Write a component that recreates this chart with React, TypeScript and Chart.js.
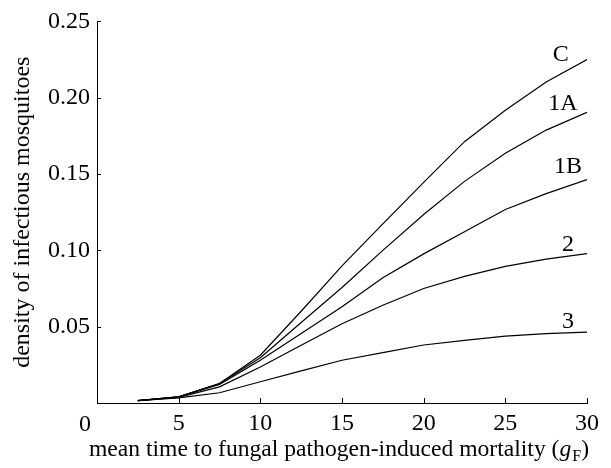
import React, { useEffect, useRef } from "react";
import { Chart, registerables } from "chart.js";

Chart.register(...registerables);

const xValues = [2.5, 5, 7.5, 10, 12.5, 15, 17.5, 20, 22.5, 25, 27.5, 30];
const seriesC = [0.0015, 0.004, 0.0128, 0.0313, 0.0601, 0.0898, 0.1174, 0.1445, 0.1712, 0.1918, 0.2103, 0.225];
const series1A = [0.0015, 0.004, 0.0128, 0.0297, 0.0527, 0.0757, 0.1, 0.1235, 0.1452, 0.1636, 0.1788, 0.1905];
const series1B = [0.0015, 0.004, 0.0122, 0.028, 0.0456, 0.063, 0.082, 0.0977, 0.1122, 0.1268, 0.1372, 0.1463];
const series2 = [0.0015, 0.0037, 0.0106, 0.0236, 0.0378, 0.0519, 0.064, 0.075, 0.083, 0.0895, 0.0942, 0.0979];
const series3 = [0.0015, 0.0033, 0.0067, 0.0139, 0.021, 0.028, 0.033, 0.038, 0.041, 0.0438, 0.0454, 0.0464];

const seriesNames = ["C", "1A", "1B", "2", "3"];
const seriesData = [seriesC, series1A, series1B, series2, series3];
// label anchor (data units) for the curve names
const labelX = [28.4, 28.52, 28.83, 28.83, 28.83];
const labelY = [0.2285, 0.196, 0.155, 0.104, 0.0535];

const xTicks = [0, 5, 10, 15, 20, 25, 30];
const yTicks = [0.05, 0.1, 0.15, 0.2, 0.25];

const xTitleMain = "mean time to fungal pathogen-induced mortality (";
const xTitleVar = "g";
const xTitleSub = "F";
const yTitle = "density of infectious mosquitoes";

const FONT = "'Liberation Serif', 'Times New Roman', serif";
const FS = 24;

const decorPlugin = {
  id: "decor",
  afterDraw(chart: any) {
    const ctx = chart.ctx;
    const xs = chart.scales.x;
    const ys = chart.scales.y;
    const area = chart.chartArea;
    ctx.save();
    ctx.strokeStyle = "#000";
    ctx.lineWidth = 1;
    // inward ticks
    for (const t of xTicks) {
      if (t === 0) continue;
      const px = Math.round(xs.getPixelForValue(t)) + 0.5;
      ctx.beginPath();
      ctx.moveTo(px, area.bottom);
      ctx.lineTo(px, area.bottom - 5);
      ctx.stroke();
    }
    for (const t of yTicks) {
      const py = Math.round(ys.getPixelForValue(t)) + 0.5;
      ctx.beginPath();
      ctx.moveTo(area.left, py);
      ctx.lineTo(area.left + 4, py);
      ctx.stroke();
    }
    ctx.fillStyle = "#000";
    // origin label
    ctx.font = `${FS}px ${FONT}`;
    ctx.textAlign = "center";
    ctx.textBaseline = "alphabetic";
    ctx.fillText("0", xs.getPixelForValue(0) - 12, 431);
    // curve labels
    ctx.textBaseline = "middle";
    for (let i = 0; i < seriesNames.length; i++) {
      ctx.fillText(seriesNames[i], xs.getPixelForValue(labelX[i]), ys.getPixelForValue(labelY[i]));
    }
    // x title with italic g and subscript F
    const TS = 23.6;
    const mainFont = `${TS}px ${FONT}`;
    const italFont = `italic ${TS}px ${FONT}`;
    const subFont = `16px ${FONT}`;
    ctx.font = mainFont;
    const w1 = ctx.measureText(xTitleMain).width;
    ctx.font = italFont;
    const w2 = ctx.measureText(xTitleVar).width;
    ctx.font = subFont;
    const w3 = ctx.measureText(xTitleSub).width;
    ctx.font = mainFont;
    const w4 = ctx.measureText(")").width;
    const total = w1 + w2 + w3 + w4 + 1;
    let cx = (area.left + area.right) / 2 - 3 - total / 2;
    const base = 456;
    ctx.textAlign = "left";
    ctx.textBaseline = "alphabetic";
    ctx.font = mainFont;
    ctx.fillText(xTitleMain, cx, base);
    cx += w1;
    ctx.font = italFont;
    ctx.fillText(xTitleVar, cx, base);
    cx += w2 + 1;
    ctx.font = subFont;
    ctx.fillText(xTitleSub, cx, base + 5);
    cx += w3;
    ctx.font = mainFont;
    ctx.fillText(")", cx, base);
    ctx.restore();
  },
};

export default function App() {
  const ref = useRef<HTMLCanvasElement | null>(null);
  useEffect(() => {
    document.body.style.margin = "0";
    const canvas = ref.current!;
    const mk = (d: number[]) => ({
      data: xValues.map((x, i) => ({ x, y: d[i] })),
      borderColor: "#000",
      borderWidth: 1.2,
      pointRadius: 0,
      tension: 0,
      fill: false,
    });
    const chart = new Chart(canvas, {
      type: "line",
      data: { datasets: seriesData.map((d, i) => ({ label: seriesNames[i], ...mk(d) })) },
      options: {
        animation: false,
        responsive: false,
        layout: { padding: { top: 19, right: 24, left: 0, bottom: 0 } },
        plugins: { legend: { display: false }, tooltip: { enabled: false } },
        scales: {
          x: {
            type: "linear",
            min: 0,
            max: 30,
            afterBuildTicks: (s: any) => {
              s.ticks = xTicks.map((v) => ({ value: v }));
            },
            ticks: {
              callback: (v: any) => (v === 0 ? "" : String(v)),
              font: { family: FONT, size: FS },
              color: "#000",
              padding: 6,
              maxRotation: 0,
            },
            grid: { display: false, drawTicks: false },
            border: { display: true, color: "#000", width: 1 },
            afterFit: (s: any) => {
              s.height = 65;
            },
          },
          y: {
            type: "linear",
            min: 0,
            max: 0.25,
            afterBuildTicks: (s: any) => {
              s.ticks = yTicks.map((v) => ({ value: v }));
            },
            ticks: {
              callback: (v: any) => Number(v).toFixed(2),
              font: { family: FONT, size: FS },
              color: "#000",
              padding: 7,
            },
            grid: { display: false, drawTicks: false },
            border: { display: true, color: "#000", width: 1 },
            title: {
              display: true,
              text: yTitle,
              font: { family: FONT, size: FS },
              color: "#000",
              padding: { top: 8, bottom: 0 },
            },
            afterFit: (s: any) => {
              s.width = 97;
            },
          },
        },
      },
      plugins: [decorPlugin],
    });
    return () => chart.destroy();
  }, []);
  return (
    <div style={{ width: 611, height: 468 }}>
      <canvas ref={ref} width={611} height={468} style={{ display: "block" }} />
    </div>
  );
}
